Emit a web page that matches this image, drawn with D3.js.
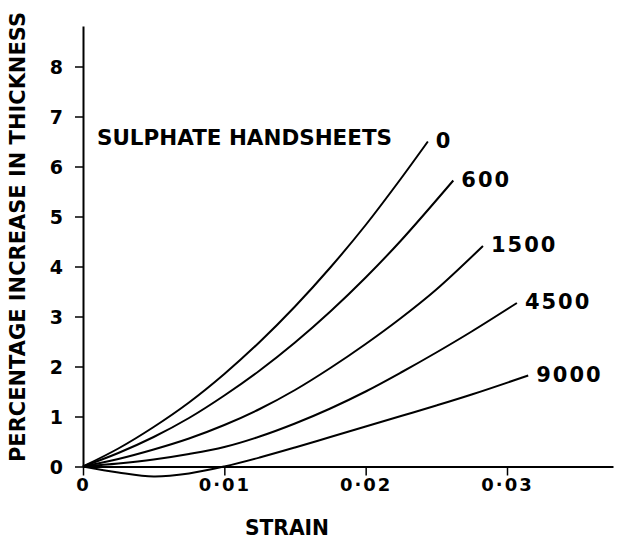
<!DOCTYPE html>
<html><head><meta charset="utf-8">
<script src="https://cdn.jsdelivr.net/npm/d3@7"></script>
<style>body{margin:0;background:#fff}svg{display:block}</style>
</head><body>
<svg id="c" width="624" height="543"></svg>
<script>
// ---- data ----
const xTicks = [0, 0.01, 0.02, 0.03];
const xTickLabels = ["0", "0·01", "0·02", "0·03"];
const yTicks = [0, 1, 2, 3, 4, 5, 6, 7, 8];
const yTickLabels = ["0", "1", "2", "3", "4", "5", "6", "7", "8"];
const seriesNames = ["0", "600", "1500", "4500", "9000"];
const series0 = [[0,0],[0.0025,0.36],[0.005,0.79],[0.0075,1.28],[0.01,1.85],[0.0125,2.49],[0.015,3.2],[0.0175,3.98],[0.02,4.83],[0.0225,5.76],[0.0244,6.5]];
const series600 = [[0,0],[0.0025,0.27],[0.005,0.59],[0.0075,0.97],[0.01,1.42],[0.0125,1.92],[0.015,2.48],[0.0175,3.1],[0.02,3.78],[0.0225,4.52],[0.0262,5.72]];
const series1500 = [[0,0],[0.0025,0.15],[0.005,0.34],[0.0075,0.56],[0.01,0.83],[0.0125,1.15],[0.015,1.53],[0.0175,1.97],[0.02,2.45],[0.0225,2.97],[0.025,3.54],[0.0283,4.41]];
const series4500 = [[0,0],[0.0025,0.06],[0.005,0.14],[0.0075,0.25],[0.01,0.39],[0.0125,0.6],[0.015,0.86],[0.0175,1.16],[0.02,1.5],[0.0225,1.88],[0.025,2.28],[0.0275,2.7],[0.0307,3.27]];
const series9000 = [[0,0],[0.0025,-0.12],[0.005,-0.2],[0.0075,-0.14],[0.01,0.0],[0.0125,0.18],[0.015,0.38],[0.0175,0.59],[0.02,0.8],[0.0225,1.01],[0.025,1.22],[0.0275,1.44],[0.0315,1.82]];
const allSeries = [series0, series600, series1500, series4500, series9000];

// ---- drawing ----
const svg = d3.select("#c");
const FONT = "'DejaVu Sans', sans-serif";
const x = d3.scaleLinear().domain([0, 0.0375]).range([83, 613]);
const y = d3.scaleLinear().domain([0, 8.81]).range([466.5, 26]);

// x axis
const gx = svg.append("g").attr("transform", `translate(0,${y(0)})`)
  .call(d3.axisBottom(x).tickValues(xTicks).tickSize(9).tickSizeOuter(0).tickFormat((d,i)=>xTickLabels[i]));
gx.select(".domain").attr("stroke","#000").attr("stroke-width",2);
gx.selectAll(".tick line").attr("stroke","#000").attr("stroke-width",1.5);
gx.selectAll(".tick text").attr("font-family",FONT).attr("font-weight","bold").attr("font-size",18)
  .attr("fill","#000").attr("letter-spacing",2).attr("y",12).attr("dy","0.71em");

// y axis
const gy = svg.append("g").attr("transform", `translate(${x(0)},0)`)
  .call(d3.axisLeft(y).tickValues(yTicks).tickSize(8).tickSizeOuter(0).tickFormat((d,i)=>yTickLabels[i]));
gy.select(".domain").attr("stroke","#000").attr("stroke-width",2);
gy.selectAll(".tick line").attr("stroke","#000").attr("stroke-width",1.5);
gy.selectAll(".tick text").attr("font-family",FONT).attr("font-weight","bold").attr("font-size",19)
  .attr("fill","#000").attr("x",-20).attr("dy","0.36em");

// curves
const line = d3.line().x(d=>x(d[0])).y(d=>y(d[1])).curve(d3.curveCatmullRom.alpha(0.5));
svg.append("g").selectAll("path").data(allSeries).join("path")
  .attr("d", line).attr("fill","none").attr("stroke","#000").attr("stroke-width",2);

// curve labels
svg.append("g").selectAll("text").data(allSeries).join("text")
  .attr("x", d=>x(d[d.length-1][0]) + 8)
  .attr("y", d=>y(d[d.length-1][1]) + 6)
  .attr("font-family",FONT).attr("font-weight","bold").attr("font-size",21)
  .attr("letter-spacing",2).attr("fill","#000")
  .text((d,i)=>seriesNames[i]);

// titles
svg.append("text").attr("x",97).attr("y",145).attr("font-family",FONT).attr("font-weight","bold")
  .attr("font-size",21).attr("textLength",295).attr("lengthAdjust","spacingAndGlyphs").attr("fill","#000").text("SULPHATE HANDSHEETS");
svg.append("text").attr("x",245).attr("y",535).attr("font-family",FONT).attr("font-weight","bold")
  .attr("font-size",21).attr("textLength",84).attr("lengthAdjust","spacingAndGlyphs").attr("fill","#000").text("STRAIN");
svg.append("text").attr("transform","translate(25,237) rotate(-90) scale(1,1.1)").attr("text-anchor","middle")
  .attr("font-family",FONT).attr("font-weight","bold").attr("font-size",19.5).attr("textLength",450)
  .attr("lengthAdjust","spacingAndGlyphs").attr("fill","#000").text("PERCENTAGE INCREASE IN THICKNESS");
</script>
</body></html>
